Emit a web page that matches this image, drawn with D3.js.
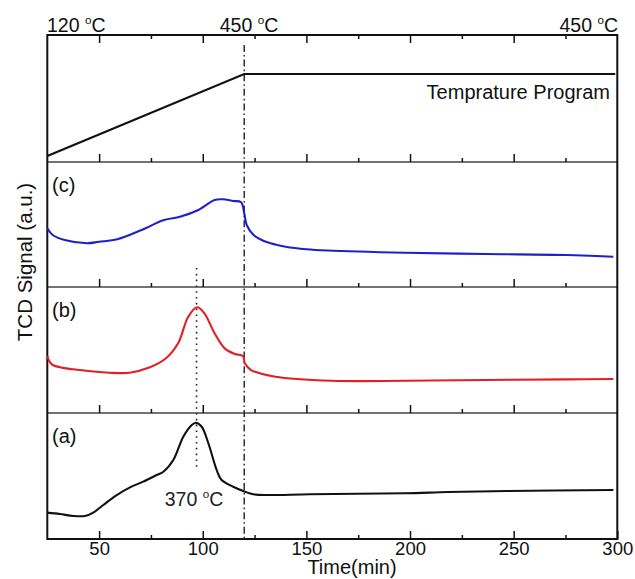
<!DOCTYPE html>
<html>
<head>
<meta charset="utf-8">
<script src="https://cdn.jsdelivr.net/npm/d3@7/dist/d3.min.js"></script>
<style>
  html, body { margin: 0; padding: 0; background: #fff; }
  svg { display: block; font-family: "Liberation Sans", Arial, sans-serif; }
</style>
</head>
<body>
<svg id="chart" width="635" height="579"></svg>
<script>
// Temperature program (time in min, temperature in °C)
const tempTime  = [25, 120, 299];
const tempValue = [120, 450, 450];

// TCD signal traces, arbitrary units (0–100 within each panel)
const timeC = [25, 27.6, 33.4, 44.2, 50, 58.8, 70.5, 81.3, 89.0, 97.9, 105.7, 109.6, 114.7, 118.5, 120.0, 121.2, 124.4, 129.2, 135, 140, 150, 160, 197.6, 236.7, 275.8, 298.1];
const sigC  = [47.0, 41.6, 37.6, 35.0, 36.2, 38.2, 45.6, 53.6, 56.2, 61.6, 69.6, 70.2, 68.8, 67.8, 59.2, 49.6, 41.8, 37.0, 34.0, 32.2, 30.2, 29.2, 27.4, 26.4, 25.6, 24.2];

const timeB = [25, 26, 27.6, 32, 37.4, 54.9, 64.7, 74.5, 82.3, 88.1, 93.0, 97.3, 100.8, 105.7, 110.6, 115.5, 119.4, 120.3, 123.3, 135, 162.4, 197.6, 236.7, 275.8, 298.1];
const sigB  = [45.2, 41.0, 38.1, 36.0, 34.7, 32.0, 32.0, 36.3, 43.4, 55.3, 76.4, 83.9, 79.1, 63.3, 51.3, 46.8, 45.2, 39.4, 34.1, 28.8, 25.6, 25.6, 26.2, 26.7, 27.0];

const timeA = [25, 31.1, 37.5, 43.2, 47.2, 52.0, 58.5, 64.9, 71.3, 77.8, 81.0, 85.8, 90.6, 94.7, 96.7, 99.5, 102.7, 106.7, 109.1, 114.7, 120.4, 124.4, 130.9, 151.7, 197.6, 218.4, 247, 298.1];
const sigA  = [20.9, 19.8, 18.3, 18.3, 20.9, 27.0, 34.9, 41.0, 45.5, 50.8, 53.4, 62.7, 81.2, 90.5, 92.3, 89.1, 76.0, 54.8, 46.8, 41.5, 37.5, 35.5, 34.9, 35.5, 36.3, 37.3, 38.1, 38.9];

// Axis ticks and annotations
const majorTicks = [50, 100, 150, 200, 250, 300];
const minorTicks = [75, 125, 175, 225, 275];
const panelLabels = ["(c)", "(b)", "(a)"];
const topTempLabels = [
  { t: 25,  text: "120", anchor: "start" },
  { t: 120, text: "450", anchor: "middle" },
  { t: 300, text: "450", anchor: "end" }
];
const peakTime = 97;
const peakLabel = "370";
const rampEnd = 120;

const svg = d3.select("#chart");

const left = 47.3, right = 617.3;
const bands = [35, 162, 287, 413, 539]; // panel edges, top to bottom

const x = d3.scaleLinear().domain([25, 300]).range([left, right]);

const yTemp = d3.scaleLinear().domain([96, 607]).range([bands[1], bands[0]]);
const panelScale = i => d3.scaleLinear().domain([0, 100]).range([bands[i + 2], bands[i + 1]]);
const yC = panelScale(0), yB = panelScale(1), yA = panelScale(2);

// Panel separators
svg.selectAll("line.sep")
  .data(bands.slice(1, 4))
  .join("line")
  .attr("class", "sep")
  .attr("x1", left).attr("x2", right)
  .attr("y1", d => d).attr("y2", d => d)
  .attr("stroke", "#444").attr("stroke-width", 1.6);

// Ticks: inward on top of the top panel, inward along the bottom of every panel
function addTicks(y, orient, size, values) {
  const ax = (orient === "top" ? d3.axisTop(x) : d3.axisBottom(x))
    .tickValues(values).tickSize(size).tickFormat("");
  const g = svg.append("g").attr("transform", `translate(0,${y})`).call(ax);
  g.select(".domain").remove();
  g.selectAll(".tick line").attr("stroke", "#111").attr("stroke-width", 1.5);
  return g;
}
addTicks(bands[0], "top", -8, majorTicks.filter(d => d < 300));
addTicks(bands[0], "top", -4, minorTicks);
[bands[1], bands[2], bands[3]].forEach(y => {
  addTicks(y, "bottom", -8, majorTicks.filter(d => d < 300));
  addTicks(y, "bottom", -4, minorTicks);
});

// Bottom axis with labels
const bottomAxis = d3.axisBottom(x).tickValues(majorTicks).tickSizeInner(-8).tickSizeOuter(0).tickPadding(3);
const gb = svg.append("g").attr("transform", `translate(0,${bands[4]})`).call(bottomAxis);
gb.select(".domain").remove();
gb.selectAll(".tick line").attr("stroke", "#111").attr("stroke-width", 1.5);
gb.selectAll(".tick text")
  .attr("font-size", 18.5).attr("fill", "#111")
  .attr("font-family", '"Liberation Sans", Arial, sans-serif');
addTicks(bands[4], "bottom", -4, minorTicks);

// Outer frame
svg.append("rect")
  .attr("x", left).attr("y", bands[0])
  .attr("width", right - left).attr("height", bands[4] - bands[0])
  .attr("fill", "none").attr("stroke", "#111").attr("stroke-width", 2);

// Reference lines: end of ramp (dash-dot) and peak position (dotted)
svg.append("line")
  .attr("x1", x(rampEnd)).attr("x2", x(rampEnd))
  .attr("y1", 45).attr("y2", bands[4])
  .attr("stroke", "#222").attr("stroke-width", 1.4)
  .attr("stroke-dasharray", "7,3,1.6,3");
svg.append("line")
  .attr("x1", x(peakTime)).attr("x2", x(peakTime))
  .attr("y1", 268).attr("y2", 470)
  .attr("stroke", "#222").attr("stroke-width", 1.6)
  .attr("stroke-dasharray", "1.6,4.2");

// Traces
const lineOf = (xs, ys, yScale) =>
  d3.line().x((d, i) => x(xs[i])).y(d => yScale(d)).curve(d3.curveCatmullRom.alpha(0.5))(ys);

svg.append("path")
  .attr("d", d3.line().x((d, i) => x(tempTime[i])).y(d => yTemp(d))(tempValue))
  .attr("fill", "none").attr("stroke", "#111").attr("stroke-width", 2.2);

const traces = [
  { xs: timeC, ys: sigC, y: yC, color: "#2020c8" },
  { xs: timeB, ys: sigB, y: yB, color: "#e21e26" },
  { xs: timeA, ys: sigA, y: yA, color: "#111" }
];
traces.forEach(tr => {
  svg.append("path")
    .attr("d", lineOf(tr.xs, tr.ys, tr.y))
    .attr("fill", "none").attr("stroke", tr.color)
    .attr("stroke-width", 2.1).attr("stroke-linejoin", "round");
});

// Degree label helper: "NNN °C" with a raised small o
function degreeText(sel, value, size) {
  sel.append("tspan").text(value + " ");
  sel.append("tspan").text("o").attr("font-size", size * 0.6).attr("dy", -size * 0.42);
  sel.append("tspan").text("C").attr("dy", size * 0.42);
}

topTempLabels.forEach(d => {
  const t = svg.append("text")
    .attr("x", d.anchor === "end" ? 618 : d.anchor === "middle" ? 249 : 47)
    .attr("y", 32)
    .attr("text-anchor", d.anchor)
    .attr("font-size", 19.5).attr("fill", "#111");
  degreeText(t, d.text, 19.5);
});

const pk = svg.append("text")
  .attr("x", 194).attr("y", 506)
  .attr("text-anchor", "middle")
  .attr("font-size", 19.5).attr("fill", "#222");
degreeText(pk, peakLabel, 19.5);

svg.append("text")
  .attr("x", 610).attr("y", 99)
  .attr("text-anchor", "end")
  .attr("font-size", 20).attr("fill", "#111")
  .text("Temprature Program");

panelLabels.forEach((lab, i) => {
  svg.append("text")
    .attr("x", 52).attr("y", bands[i + 1] + 30)
    .attr("font-size", 20).attr("fill", "#111")
    .text(lab);
});

svg.append("text")
  .attr("transform", "translate(32,262) rotate(-90)")
  .attr("text-anchor", "middle")
  .attr("font-size", 20.5).attr("fill", "#111")
  .text("TCD Signal (a.u.)");

svg.append("text")
  .attr("x", 352).attr("y", 574)
  .attr("text-anchor", "middle")
  .attr("font-size", 20).attr("fill", "#111")
  .text("Time(min)");
</script>
</body>
</html>
